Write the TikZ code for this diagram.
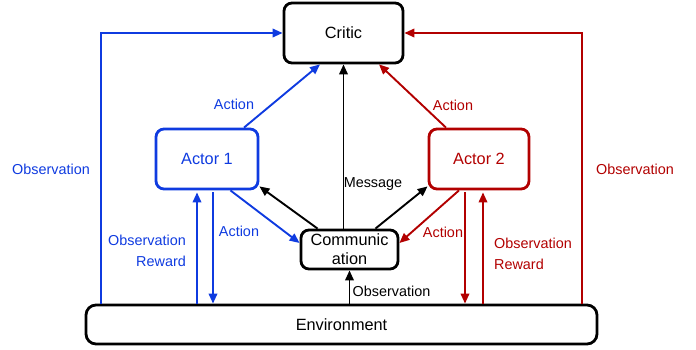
\documentclass[tikz,border=0pt]{standalone}
\usepackage{fontspec}
\setmainfont{Liberation Sans}
\usetikzlibrary{arrows.meta}
\definecolor{cblue}{HTML}{0F3BE0}
\definecolor{cred}{HTML}{B20000}
\tikzset{
  box/.style={draw, line width=2.8pt, rounded corners=8pt, inner sep=0pt, font=\fontsize{16.3}{19}\selectfont, align=center},
  lbl/.style={inner sep=0pt, font=\fontsize{14.4}{21}\selectfont},
  conn/.style={line width=1.9pt, -{Triangle[length=10pt,width=8.5pt]}},
}
\begin{document}
\begin{tikzpicture}[x=1pt,y=-1pt]
\useasboundingbox (0,0) rectangle (696,350);
\node[box, minimum width=119pt, minimum height=60pt] (critic) at (343.5,33) {Critic};
\node[box, cblue, text=cblue, minimum width=102pt, minimum height=60pt] (a1) at (207,159) {Actor 1};
\node[box, cred, text=cred, minimum width=100pt, minimum height=60pt] (a2) at (479,159) {Actor 2};
\node[box, minimum width=97pt, minimum height=39pt] (comm) at (349.5,249.5) {Communic\\ation};
\node[box, rounded corners=10pt, minimum width=511pt, minimum height=39pt] (env) at (341.5,324.5) {Environment};
\coordinate (bl) at (101,0);
\coordinate (rl) at (582,0);
% observation loops
\draw[conn, cblue] (bl |- env.north) |- (critic.west);
\draw[conn, cred] (rl |- env.north) |- (critic.east);
% actions to critic
\draw[conn, cblue] ([xshift=37pt]a1.north) -- ([xshift=-23.5pt]critic.south);
\draw[conn, cred] ([xshift=-33pt]a2.north) -- ([xshift=35.5pt]critic.south);
% message
\draw[conn] (critic.south |- comm.north) -- (critic.south);
\draw[conn] ([xshift=18pt]comm.north west) -- ([yshift=4pt]a1.south east);
\draw[conn] ([xshift=-24pt]comm.north east) -- ([yshift=4pt]a2.south west);
% actions to communication
\draw[conn, cblue] ([xshift=-29pt]a1.south east) -- ([yshift=6.5pt]comm.west);
\draw[conn, cred] ([xshift=-20pt]a2.south) -- ([yshift=6.5pt]comm.east);
% env <-> actors
\draw[conn, cblue] ([xshift=-10pt]a1.south |- env.north) -- ([xshift=-10pt,yshift=-2pt]a1.south);
\draw[conn, cblue] ([xshift=6pt,yshift=-2pt]a1.south) -- ([xshift=6pt]a1.south |- env.north);
\draw[conn, cred] ([xshift=-14pt,yshift=-2pt]a2.south) -- ([xshift=-14pt]a2.south |- env.north);
\draw[conn, cred] ([xshift=4pt]a2.south |- env.north) -- ([xshift=4pt,yshift=-2pt]a2.south);
\draw[conn] (comm.south |- env.north) -- (comm.south);
% labels
\node[lbl, text=cblue] (lobsl) at (51,169) {Observation};
\node[lbl, text=cred] (lobsr) at (635,169) {Observation};
\node[lbl, text=cblue] (lact1) at (234,104) {Action};
\node[lbl, text=cred] (lact2) at (453,105) {Action};
\node[lbl] (lmsg) at (373,184) {Message};
\node[lbl, text=cblue] (lact1b) at (239,231) {Action};
\node[lbl, text=cred] (lact2b) at (443,232) {Action};
\node[lbl] (lobsc) at (391.5,291) {Observation};
\node[lbl, text=cblue, align=right] (lor1) at (147,250.5) {Observation\\Reward};
\node[lbl, text=cred, align=left] (lor2) at (533,254) {Observation\\Reward};
\end{tikzpicture}
\end{document}
